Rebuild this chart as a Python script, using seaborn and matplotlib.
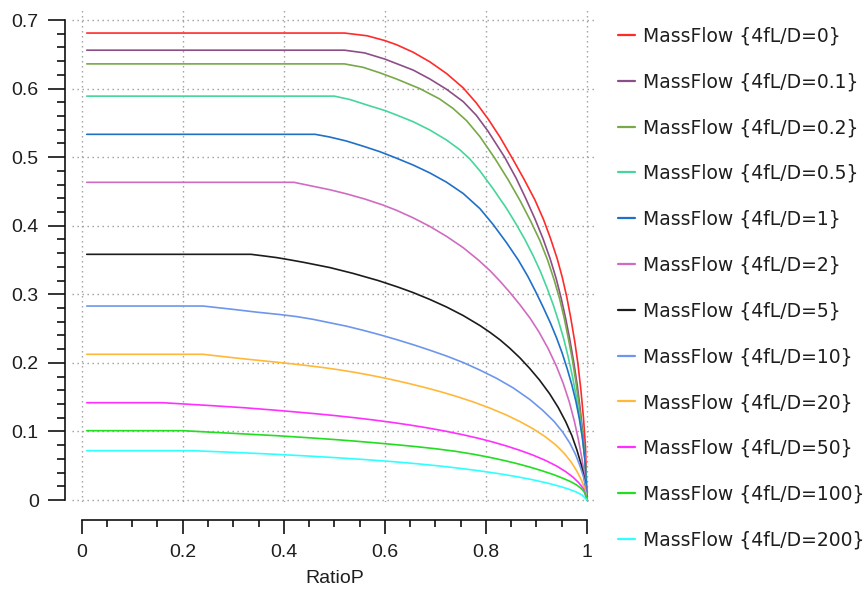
import matplotlib
matplotlib.use("Agg")
import matplotlib.pyplot as plt
import pandas as pd
import seaborn as sns
from matplotlib.ticker import MultipleLocator, FuncFormatter

# ---------------- data ----------------
labels = ["MassFlow {4fL/D=0}", "MassFlow {4fL/D=0.1}", "MassFlow {4fL/D=0.2}",
          "MassFlow {4fL/D=0.5}", "MassFlow {4fL/D=1}", "MassFlow {4fL/D=2}",
          "MassFlow {4fL/D=5}", "MassFlow {4fL/D=10}", "MassFlow {4fL/D=20}",
          "MassFlow {4fL/D=50}", "MassFlow {4fL/D=100}", "MassFlow {4fL/D=200}"]

colors = ["#FF2B2B", "#8C4E86", "#78A848", "#45D69C", "#1F70C8", "#D06CC0",
          "#1C1C1C", "#6E96EC", "#FFB83A", "#FF30FF", "#22DD22", "#30FFFF"]

x_f0 = [0.01, 0.52, 0.565, 0.60, 0.623, 0.656, 0.689, 0.722, 0.755, 0.781, 0.804, 0.828, 0.854,
        0.876, 0.897, 0.914, 0.928, 0.941, 0.951, 0.960, 0.968, 0.976, 0.982, 0.988, 0.993, 0.997, 1.0]
y_f0 = [0.681, 0.681, 0.677, 0.670, 0.664, 0.653, 0.639, 0.622, 0.601, 0.579, 0.556, 0.529, 0.496,
        0.467, 0.4375, 0.409, 0.381, 0.352, 0.325, 0.296, 0.265, 0.230, 0.199, 0.160, 0.120, 0.078, 0.0]

x_f01 = [0.01, 0.52, 0.56, 0.60, 0.656, 0.689, 0.722, 0.755, 0.781, 0.804, 0.837, 0.860, 0.879,
         0.897, 0.913, 0.927, 0.939, 0.949, 0.958, 0.966, 0.974, 0.981, 0.987, 0.992, 0.996, 1.0]
y_f01 = [0.656, 0.656, 0.652, 0.643, 0.627, 0.614, 0.599, 0.581, 0.561, 0.538, 0.500, 0.469, 0.4395,
         0.410, 0.381, 0.352, 0.323, 0.294, 0.264, 0.234, 0.200, 0.166, 0.130, 0.095, 0.062, 0.0]

x_f02 = [0.01, 0.52, 0.557, 0.59, 0.623, 0.669, 0.708, 0.735, 0.762, 0.788, 0.817, 0.844, 0.868,
         0.889, 0.907, 0.922, 0.935, 0.946, 0.955, 0.963, 0.971, 0.978, 0.985, 0.991, 0.996, 1.0]
y_f02 = [0.636, 0.636, 0.631, 0.623, 0.614, 0.600, 0.585, 0.571, 0.553, 0.530, 0.499, 0.467, 0.436,
         0.406, 0.378, 0.350, 0.321, 0.293, 0.265, 0.236, 0.205, 0.172, 0.135, 0.097, 0.060, 0.0]

x_f05 = [0.01, 0.50, 0.531, 0.567, 0.600, 0.623, 0.656, 0.689, 0.722, 0.748, 0.768, 0.788, 0.814,
         0.841, 0.860, 0.877, 0.893, 0.908, 0.921, 0.933, 0.944, 0.954, 0.963, 0.971, 0.979, 0.986,
         0.992, 0.997, 1.0]
y_f05 = [0.589, 0.589, 0.584, 0.5755, 0.568, 0.5615, 0.5517, 0.5396, 0.525, 0.511, 0.4975, 0.480, 0.454,
         0.425, 0.402, 0.380, 0.357, 0.333, 0.309, 0.285, 0.260, 0.235, 0.208, 0.181, 0.150, 0.118,
         0.085, 0.050, 0.0]

x_f1 = [0.01, 0.462, 0.49, 0.524, 0.557, 0.590, 0.623, 0.656, 0.689, 0.722, 0.755, 0.788, 0.814, 0.841,
        0.864, 0.883, 0.899, 0.914, 0.928, 0.940, 0.951, 0.961, 0.970, 0.978, 0.985, 0.991, 0.996, 1.0]
y_f1 = [0.5333, 0.5333, 0.5295, 0.5235, 0.516, 0.508, 0.4985, 0.4885, 0.477, 0.4635, 0.447, 0.425, 0.402, 0.375,
        0.350, 0.326, 0.303, 0.280, 0.2575, 0.236, 0.214, 0.191, 0.168, 0.144, 0.118, 0.090, 0.058, 0.0]

x_f2 = [0.01, 0.42, 0.458, 0.491, 0.524, 0.560, 0.595, 0.623, 0.656, 0.689, 0.722, 0.755, 0.785, 0.808,
        0.828, 0.847, 0.867, 0.887, 0.905, 0.923, 0.9396, 0.953, 0.965, 0.975, 0.983, 0.990, 0.995, 1.0]
y_f2 = [0.4633, 0.4633, 0.4575, 0.4525, 0.4465, 0.439, 0.4305, 0.4225, 0.4115, 0.399, 0.3845, 0.368, 0.350, 0.3345,
        0.319, 0.303, 0.285, 0.2655, 0.245, 0.221, 0.195, 0.170, 0.143, 0.115, 0.088, 0.060, 0.036, 0.0]

x_f5 = [0.01, 0.335, 0.36, 0.386, 0.41, 0.44, 0.491, 0.537, 0.587, 0.626, 0.656, 0.689, 0.722, 0.755,
        0.788, 0.808, 0.828, 0.847, 0.867, 0.8865, 0.906, 0.926, 0.943, 0.958, 0.970, 0.980, 0.988, 0.995, 1.0]
y_f5 = [0.3583, 0.3583, 0.356, 0.3535, 0.3505, 0.3465, 0.339, 0.3305, 0.320, 0.3105, 0.3025, 0.2925, 0.2815, 0.269,
        0.2545, 0.2445, 0.2335, 0.2215, 0.2075, 0.192, 0.175, 0.155, 0.135, 0.114, 0.094, 0.073, 0.053, 0.031, 0.0]

x_f10 = [0.01, 0.24, 0.30, 0.346, 0.392, 0.425, 0.458, 0.491, 0.524, 0.557, 0.590, 0.623, 0.656, 0.689,
         0.722, 0.755, 0.788, 0.821, 0.854, 0.887, 0.912, 0.935, 0.952, 0.966, 0.977, 0.986, 0.993, 0.997, 1.0]
y_f10 = [0.2829, 0.2829, 0.278, 0.274, 0.2705, 0.2675, 0.2635, 0.2585, 0.2535, 0.2475, 0.241, 0.234, 0.2265, 0.2185,
         0.210, 0.2005, 0.1895, 0.1775, 0.1635, 0.1465, 0.131, 0.1145, 0.099, 0.083, 0.067, 0.050, 0.034, 0.020, 0.0]

x_f20 = [0.01, 0.24, 0.30, 0.339, 0.392, 0.432, 0.478, 0.511, 0.544, 0.577, 0.610, 0.643, 0.676, 0.709,
         0.742, 0.775, 0.808, 0.841, 0.867, 0.893, 0.917, 0.938, 0.955, 0.969, 0.980, 0.989, 0.995, 1.0]
y_f20 = [0.2125, 0.2125, 0.2075, 0.2045, 0.2005, 0.1973, 0.1932, 0.1897, 0.1857, 0.1812, 0.1762, 0.1707, 0.1647, 0.1582,
         0.151, 0.143, 0.134, 0.1238, 0.1145, 0.104, 0.0925, 0.0805, 0.068, 0.055, 0.042, 0.029, 0.018, 0.0]

x_f50 = [0.01, 0.16, 0.26, 0.323, 0.386, 0.430, 0.465, 0.504, 0.544, 0.580, 0.615, 0.650, 0.685, 0.720,
         0.755, 0.788, 0.814, 0.841, 0.867, 0.893, 0.918, 0.940, 0.958, 0.972, 0.984, 0.993, 1.0]
y_f50 = [0.1419, 0.1419, 0.1375, 0.1345, 0.1308, 0.128, 0.1257, 0.1229, 0.1197, 0.1165, 0.1131, 0.1093, 0.1051, 0.1004,
         0.0951, 0.0895, 0.0845, 0.0787, 0.0725, 0.0655, 0.0577, 0.0495, 0.0413, 0.0335, 0.025, 0.0165, 0.0]

x_f100 = [0.01, 0.20, 0.30, 0.386, 0.445, 0.504, 0.544, 0.584, 0.623, 0.660, 0.700, 0.740, 0.775, 0.805,
          0.835, 0.862, 0.888, 0.912, 0.934, 0.952, 0.967, 0.979, 0.989, 0.996, 1.0]
y_f100 = [0.1011, 0.1011, 0.0972, 0.0938, 0.091, 0.088, 0.0857, 0.0832, 0.0806, 0.078, 0.0748, 0.071, 0.0668, 0.0626,
          0.0578, 0.053, 0.0478, 0.0424, 0.037, 0.0318, 0.027, 0.0222, 0.0165, 0.0105, 0.0]

x_f200 = [0.01, 0.22, 0.30, 0.380, 0.452, 0.504, 0.560, 0.615, 0.665, 0.710, 0.750, 0.788, 0.825, 0.860,
          0.892, 0.920, 0.944, 0.963, 0.978, 0.990, 1.0]
y_f200 = [0.0719, 0.0719, 0.0695, 0.0668, 0.064, 0.0617, 0.059, 0.056, 0.0528, 0.0495, 0.0461, 0.0425, 0.0385, 0.0342,
          0.0296, 0.025, 0.0204, 0.0161, 0.0119, 0.0075, 0.0]

series_x = [x_f0, x_f01, x_f02, x_f05, x_f1, x_f2, x_f5, x_f10, x_f20, x_f50, x_f100, x_f200]
series_y = [y_f0, y_f01, y_f02, y_f05, y_f1, y_f2, y_f5, y_f10, y_f20, y_f50, y_f100, y_f200]

x_ticks = [0, 0.2, 0.4, 0.6, 0.8, 1]
y_ticks = [0, 0.1, 0.2, 0.3, 0.4, 0.5, 0.6, 0.7]

# ---------------- build long table ----------------
rows = []
for lab, xs, ys in zip(labels, series_x, series_y):
    for i, (a, b) in enumerate(zip(xs, ys)):
        rows.append((lab, i, a, b))
df = pd.DataFrame(rows, columns=["series", "order", "RatioP", "MassFlow"])

# ---------------- style ----------------
sns.set_style("white")
plt.rcParams["font.family"] = ["Liberation Sans", "DejaVu Sans"]
TXT = "#1e1e1e"

W, H = 865, 595
fig = plt.figure(figsize=(W / 100, H / 100), dpi=100)
ax = fig.add_axes([72 / W, 1 - 502 / H, (597 - 72) / W, (502 - 10) / H])

sns.lineplot(data=df, x="RatioP", y="MassFlow", hue="series", hue_order=labels,
             palette=colors, estimator=None, sort=False, units="series",
             linewidth=1.2, ax=ax)

ax.set_xlim(-0.0192, 1.0198)
ax.set_ylim(-0.0029, 0.7146)

ax.set_xticks(x_ticks)
ax.set_yticks(y_ticks)
ax.xaxis.set_minor_locator(MultipleLocator(0.05))
ax.yaxis.set_minor_locator(MultipleLocator(0.02))
fmt = FuncFormatter(lambda v, p: f"{v:g}")
ax.xaxis.set_major_formatter(fmt)
ax.yaxis.set_major_formatter(fmt)

ax.grid(True, which="major", color="#9c9c9c", linestyle=(0, (1, 2.6)), linewidth=1.0)
ax.grid(False, which="minor")

for s in ["top", "right"]:
    ax.spines[s].set_visible(False)
ax.spines["left"].set_position(("outward", 5))
ax.spines["bottom"].set_position(("outward", 13))
ax.spines["left"].set_bounds(0, 0.7)
ax.spines["bottom"].set_bounds(0, 1)
for s in ["left", "bottom"]:
    ax.spines[s].set_linewidth(1.2)
    ax.spines[s].set_color("#111111")

ax.tick_params(axis="y", which="major", direction="out", length=12, width=1.2,
               color="#111111", labelsize=14, labelcolor=TXT, pad=7, left=True)
ax.tick_params(axis="y", which="minor", direction="out", length=6, width=1.2,
               color="#111111", left=True)
ax.tick_params(axis="x", which="major", direction="out", length=10, width=1.2,
               color="#111111", labelsize=14, labelcolor=TXT, pad=7, bottom=True)
ax.tick_params(axis="x", which="minor", direction="out", length=5, width=1.2,
               color="#111111", bottom=True)

ax.set_xlabel("RatioP", fontsize=14, color=TXT, labelpad=7)
ax.set_ylabel("")

handles, labs = ax.get_legend_handles_labels()
leg = ax.legend(handles, labs, loc="upper left", bbox_to_anchor=(618 / W, 1 - 26.5 / H),
                bbox_transform=fig.transFigure, frameon=False,
                prop={"family": ["DejaVu Sans"], "size": 13.5},
                handlelength=0.9, handletextpad=0.43, labelspacing=1.43,
                borderpad=0, borderaxespad=0)
for t in leg.get_texts():
    t.set_color(TXT)
for h in leg.get_lines():
    h.set_linewidth(1.6)

fig.savefig("out.png", dpi=100)
